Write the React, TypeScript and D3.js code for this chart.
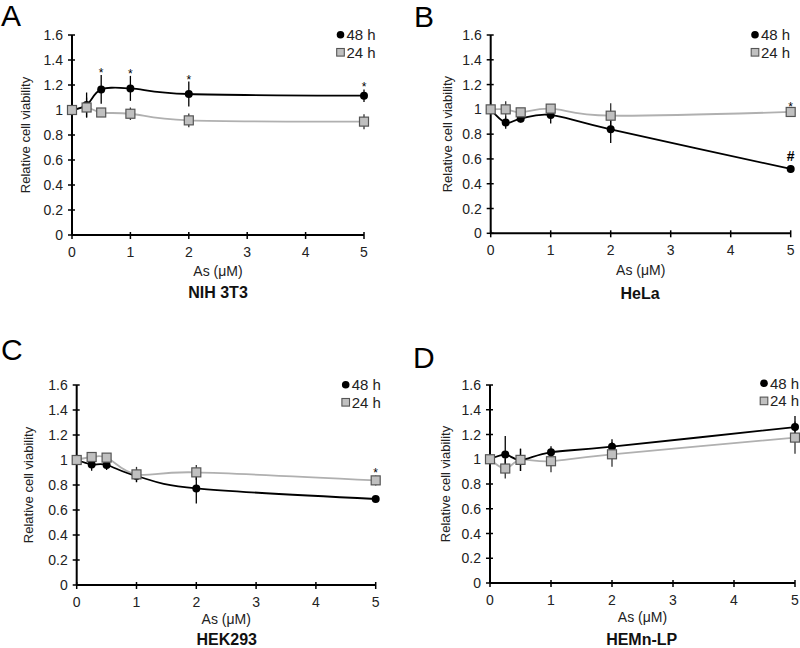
import * as d3 from "d3";

// arsenic doses (µM)
const doses = [0, 0.25, 0.5, 1, 2, 5];
const xTicks = [0, 1, 2, 3, 4, 5];
const yTicks = [0, 0.2, 0.4, 0.6, 0.8, 1, 1.2, 1.4, 1.6];

// NIH 3T3
const nih48 = [1.0, 1.04, 1.165, 1.173, 1.128, 1.115];
const nih48Err = [0, 0.1, 0.115, 0.1, 0.1, 0.05];
const nih24 = [1.0, 1.02, 0.98, 0.97, 0.917, 0.907];
const nih24Err = [0, 0.08, 0.02, 0.05, 0.055, 0.06];

// HeLa
const hela48 = [1.0, 0.893, 0.925, 0.955, 0.839, 0.519];
const hela48Err = [0, 0.05, 0.03, 0.07, 0.11, 0.03];
const hela24 = [1.0, 1.0, 0.976, 1.006, 0.949, 0.979];
const hela24Err = [0, 0.065, 0.02, 0.02, 0.1, 0.02];

// HEK293
const hek48 = [1.0, 0.965, 0.96, 0.872, 0.773, 0.688];
const hek48Err = [0, 0.05, 0.04, 0.05, 0.12, 0.02];
const hek24 = [1.0, 1.024, 1.019, 0.885, 0.901, 0.837];
const hek24Err = [0, 0.02, 0.02, 0.06, 0.06, 0.04];

// HEMn-LP
const hem48 = [1.0, 1.038, 0.995, 1.056, 1.102, 1.26];
const hem48Err = [0, 0.15, 0.09, 0.05, 0.06, 0.09];
const hem24 = [1.0, 0.925, 0.995, 0.984, 1.04, 1.175];
const hem24Err = [0, 0.08, 0.09, 0.09, 0.1, 0.13];

const FONT = "'Liberation Sans', Arial, sans-serif";

interface Mark {
  series: "48" | "24";
  index: number;
  text: string;
}

interface PanelDef {
  letter: string;
  title: string;
  v48: number[];
  e48: number[];
  v24: number[];
  e24: number[];
  marks: Mark[];
  // layout
  x0: number;
  x1: number;
  yBottom: number;
  yTop: number;
  letterPos: [number, number];
  yLabelX: number;
  legend: [number, number];
  xLabelY: number;
  titlePos: [number, number];
}

const panels: PanelDef[] = [
  {
    letter: "A", title: "NIH 3T3",
    v48: nih48, e48: nih48Err, v24: nih24, e24: nih24Err,
    marks: [
      { series: "48", index: 2, text: "*" },
      { series: "48", index: 3, text: "*" },
      { series: "48", index: 4, text: "*" },
      { series: "48", index: 5, text: "*" },
    ],
    x0: 72, x1: 364, yBottom: 235, yTop: 35,
    letterPos: [1, 26], yLabelX: 25, legend: [340.5, 34.7],
    xLabelY: 276, titlePos: [218, 298],
  },
  {
    letter: "B", title: "HeLa",
    v48: hela48, e48: hela48Err, v24: hela24, e24: hela24Err,
    marks: [
      { series: "24", index: 5, text: "*" },
      { series: "48", index: 5, text: "#" },
    ],
    x0: 490.7, x1: 790.7, yBottom: 233.3, yTop: 35,
    letterPos: [414, 27], yLabelX: 447, legend: [755, 34.7],
    xLabelY: 275, titlePos: [640, 299],
  },
  {
    letter: "C", title: "HEK293",
    v48: hek48, e48: hek48Err, v24: hek24, e24: hek24Err,
    marks: [{ series: "24", index: 5, text: "*" }],
    x0: 76.7, x1: 375.7, yBottom: 585, yTop: 385,
    letterPos: [1, 360], yLabelX: 28, legend: [345.7, 384.7],
    xLabelY: 624, titlePos: [226.7, 645],
  },
  {
    letter: "D", title: "HEMn-LP",
    v48: hem48, e48: hem48Err, v24: hem24, e24: hem24Err,
    marks: [],
    x0: 490, x1: 795, yBottom: 583, yTop: 385,
    letterPos: [413, 368], yLabelX: 445, legend: [764, 383.3],
    xLabelY: 622, titlePos: [641.7, 645],
  },
];

function Panel({ p }: { p: PanelDef }) {
  const x = d3.scaleLinear().domain([0, 5]).range([p.x0, p.x1]);
  const y = d3.scaleLinear().domain([0, 1.6]).range([p.yBottom, p.yTop]);
  const line = d3
    .line<number>()
    .x((_, i) => x(doses[i]))
    .y((d) => y(d))
    .curve(d3.curveCatmullRom.alpha(0));
  const yMid = (p.yBottom + p.yTop) / 2;

  const errBars = (vals: number[], errs: number[], color: string) =>
    vals.map((v, i) =>
      errs[i] > 0 ? (
        <line
          key={i}
          x1={x(doses[i])}
          x2={x(doses[i])}
          y1={y(v - errs[i])}
          y2={y(v + errs[i])}
          stroke={color}
          strokeWidth={1.3}
        />
      ) : null
    );

  return (
    <g fontFamily={FONT}>
      <text x={p.letterPos[0]} y={p.letterPos[1]} fontSize={30}>
        {p.letter}
      </text>
      {/* axes */}
      <line x1={p.x0} x2={p.x0} y1={p.yTop} y2={p.yBottom} stroke="#000" strokeWidth={2} />
      <line x1={p.x0} x2={p.x1} y1={p.yBottom} y2={p.yBottom} stroke="#000" strokeWidth={2} />
      {yTicks.map((t) => (
        <g key={t}>
          <line x1={p.x0 - 4} x2={p.x0 + 3} y1={y(t)} y2={y(t)} stroke="#000" strokeWidth={1.5} />
          <text x={p.x0 - 9} y={y(t) + 5} fontSize={14} textAnchor="end" fill="#222">
            {t}
          </text>
        </g>
      ))}
      {xTicks.map((t) => (
        <g key={t}>
          <line x1={x(t)} x2={x(t)} y1={p.yBottom - 3} y2={p.yBottom + 4} stroke="#000" strokeWidth={1.5} />
          <text x={x(t)} y={p.yBottom + 22} fontSize={14} textAnchor="middle" fill="#222">
            {t}
          </text>
        </g>
      ))}
      <text
        transform={`translate(${p.yLabelX},${yMid}) rotate(-90)`}
        fontSize={13}
        textAnchor="middle"
        dy="0.35em"
        fill="#222"
      >
        Relative cell viability
      </text>
      <text x={(p.x0 + p.x1) / 2} y={p.xLabelY} fontSize={14} textAnchor="middle" fill="#222">
        As (μM)
      </text>
      <text x={p.titlePos[0]} y={p.titlePos[1]} fontSize={16} fontWeight="bold" textAnchor="middle" fill="#111">
        {p.title}
      </text>

      {/* series */}
      <path d={line(p.v24) ?? ""} fill="none" stroke="#b0b0b0" strokeWidth={1.8} />
      <path d={line(p.v48) ?? ""} fill="none" stroke="#000" strokeWidth={1.8} />
      {errBars(p.v24, p.e24, "#333")}
      {errBars(p.v48, p.e48, "#000")}
      {p.v48.map((v, i) => (
        <circle key={i} cx={x(doses[i])} cy={y(v)} r={4} fill="#000" />
      ))}
      {p.v24.map((v, i) => (
        <rect
          key={i}
          x={x(doses[i]) - 4.5}
          y={y(v) - 4.5}
          width={9}
          height={9}
          fill="#c0c0c0"
          stroke="#555"
          strokeWidth={1.2}
        />
      ))}

      {/* significance marks */}
      {p.marks.map((m, k) => {
        const vals = m.series === "48" ? p.v48 : p.v24;
        const errs = m.series === "48" ? p.e48 : p.e24;
        const top = y(vals[m.index] + errs[m.index]);
        return m.text === "#" ? (
          <text key={k} x={x(doses[m.index])} y={top - 4} fontSize={14} fontWeight="bold" textAnchor="middle">
            #
          </text>
        ) : (
          <text key={k} x={x(doses[m.index])} y={top + 2} fontSize={12} textAnchor="middle">
            *
          </text>
        );
      })}

      {/* legend */}
      <circle cx={p.legend[0]} cy={p.legend[1]} r={3.8} fill="#000" />
      <text x={p.legend[0] + 6} y={p.legend[1] + 5.5} fontSize={15} fill="#222">
        48 h
      </text>
      <rect
        x={p.legend[0] - 3.8}
        y={p.legend[1] + 17.6 - 3.8}
        width={7.6}
        height={7.6}
        fill="#c0c0c0"
        stroke="#555"
        strokeWidth={1.1}
      />
      <text x={p.legend[0] + 6} y={p.legend[1] + 23} fontSize={15} fill="#222">
        24 h
      </text>
    </g>
  );
}

export default function App() {
  return (
    <svg
      width={800}
      height={648}
      style={{ position: "absolute", left: 0, top: 0, background: "#fff" }}
    >
      <rect width={800} height={648} fill="#fff" />
      {panels.map((p) => (
        <Panel key={p.letter} p={p} />
      ))}
    </svg>
  );
}
